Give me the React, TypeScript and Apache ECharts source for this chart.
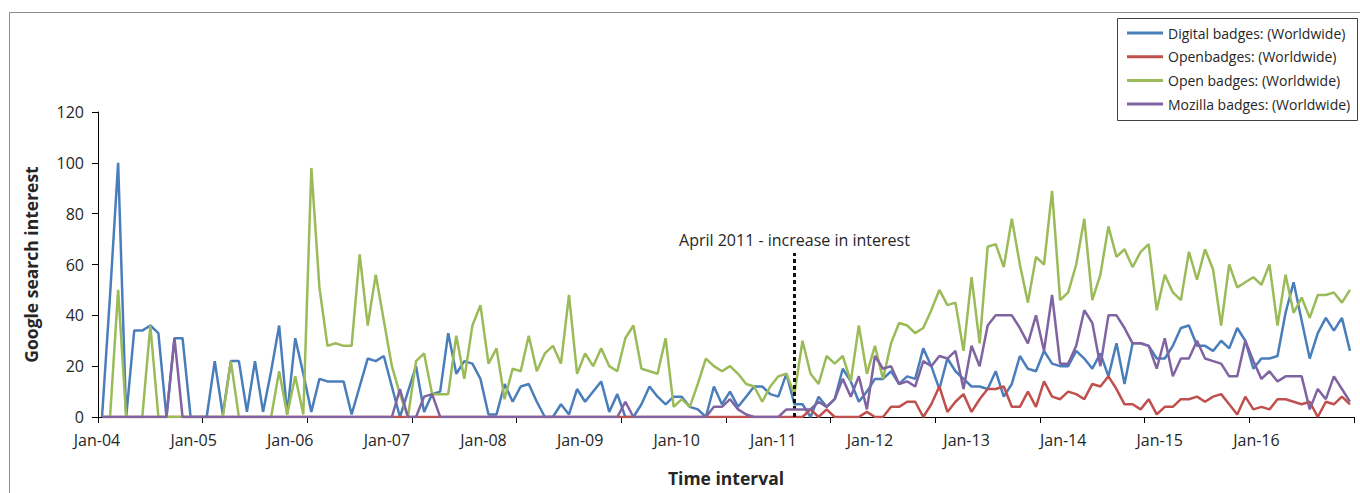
import React, { useEffect, useRef } from "react";
import * as echarts from "echarts";

const monthNames = ["Jan", "Feb", "Mar", "Apr", "May", "Jun", "Jul", "Aug", "Sep", "Oct", "Nov", "Dec"];
const yearLabels = ["04", "05", "06", "07", "08", "09", "10", "11", "12", "13", "14", "15", "16"];
const categories: string[] = [];
yearLabels.forEach((y) => monthNames.forEach((m) => categories.push(`${m}-${y}`)));

const seriesNames = [
  "Digital badges: (Worldwide)",
  "Openbadges: (Worldwide)",
  "Open badges: (Worldwide)",
  "Mozilla badges: (Worldwide)",
];

const digitalBadges = [
  0, 48, 100, 0, 34, 34, 36, 33, 0, 31,
  31, 0, 0, 0, 22, 1, 22, 22, 2, 22,
  2, 18, 36, 1, 31, 17, 2, 15, 14, 14,
  14, 1, 12, 23, 22, 24, 12, 0, 10, 20,
  2, 9, 10, 33, 17, 22, 21, 15, 1, 1,
  13, 6, 12, 13, 6, 0, 0, 5, 1, 11,
  6, 10, 14, 2, 9, 0, 0, 5, 12, 8,
  5, 8, 8, 4, 3, 0, 12, 5, 10, 4,
  8, 12, 12, 9, 8, 17, 5, 5, 0, 8,
  4, 7, 19, 14, 6, 10, 15, 15, 18, 13,
  16, 15, 27, 20, 11, 23, 18, 15, 12, 12,
  11, 18, 8, 13, 24, 19, 18, 26, 21, 20,
  20, 26, 23, 19, 25, 16, 29, 13, 29, 29,
  28, 23, 23, 28, 35, 36, 28, 28, 26, 30,
  27, 35, 30, 19, 23, 23, 24, 41, 53, 38,
  23, 33, 39, 34, 39, 26,
];

const openbadges = [
  0, 0, 0, 0, 0, 0, 0, 0, 0, 0,
  0, 0, 0, 0, 0, 0, 0, 0, 0, 0,
  0, 0, 0, 0, 0, 0, 0, 0, 0, 0,
  0, 0, 0, 0, 0, 0, 0, 0, 0, 0,
  0, 0, 0, 0, 0, 0, 0, 0, 0, 0,
  0, 0, 0, 0, 0, 0, 0, 0, 0, 0,
  0, 0, 0, 0, 0, 0, 0, 0, 0, 0,
  0, 0, 0, 0, 0, 0, 0, 0, 0, 0,
  0, 0, 0, 0, 0, 0, 0, 0, 3, 0,
  3, 0, 0, 0, 0, 2, 0, 0, 4, 4,
  6, 6, 0, 5, 12, 2, 6, 9, 2, 7,
  11, 11, 12, 4, 4, 10, 4, 14, 8, 7,
  10, 9, 7, 13, 12, 16, 11, 5, 5, 3,
  7, 1, 4, 4, 7, 7, 8, 6, 8, 9,
  5, 1, 8, 3, 4, 3, 7, 7, 6, 5,
  6, 0, 6, 5, 8, 5,
];

const openBadges = [
  0, 0, 50, 0, 0, 0, 36, 0, 0, 0,
  0, 0, 0, 0, 0, 0, 22, 0, 0, 0,
  0, 0, 18, 1, 16, 1, 98, 51, 28, 29,
  28, 28, 64, 36, 56, 38, 20, 9, 0, 22,
  25, 9, 9, 9, 32, 15, 36, 44, 21, 27,
  7, 19, 18, 32, 18, 25, 28, 21, 48, 17,
  25, 20, 27, 20, 18, 31, 36, 19, 18, 17,
  31, 4, 7, 4, 13, 23, 20, 18, 20, 17,
  13, 12, 6, 12, 16, 17, 9, 30, 17, 13,
  24, 21, 24, 14, 36, 17, 28, 15, 29, 37,
  36, 33, 35, 42, 50, 44, 45, 26, 55, 29,
  67, 68, 59, 78, 60, 45, 63, 60, 89, 46,
  49, 60, 78, 46, 56, 75, 63, 66, 59, 65,
  68, 42, 56, 49, 46, 65, 54, 66, 58, 36,
  60, 51, 53, 55, 52, 60, 36, 56, 41, 47,
  39, 48, 48, 49, 45, 50,
];

const mozillaBadges = [
  0, 0, 0, 0, 0, 0, 0, 0, 0, 31,
  0, 0, 0, 0, 0, 0, 0, 0, 0, 0,
  0, 0, 0, 0, 0, 0, 0, 0, 0, 0,
  0, 0, 0, 0, 0, 0, 0, 11, 0, 0,
  8, 9, 0, 0, 0, 0, 0, 0, 0, 0,
  0, 0, 0, 0, 0, 0, 0, 0, 0, 0,
  0, 0, 0, 0, 0, 6, 0, 0, 0, 0,
  0, 0, 0, 0, 0, 0, 4, 4, 7, 3,
  1, 0, 0, 0, 0, 3, 3, 3, 3, 6,
  4, 7, 15, 8, 16, 3, 24, 19, 20, 13,
  14, 12, 22, 20, 24, 23, 26, 11, 28, 20,
  36, 40, 40, 40, 35, 29, 40, 26, 48, 21,
  21, 28, 42, 37, 20, 40, 40, 35, 29, 29,
  28, 19, 31, 16, 23, 23, 30, 23, 22, 21,
  16, 16, 30, 22, 15, 18, 14, 16, 16, 16,
  3, 11, 7, 16, 11, 6,
];

const seriesData = [digitalBadges, openbadges, openBadges, mozillaBadges];
const seriesColors = ["#4A7EBB", "#C0504D", "#9BBB59", "#8064A2"];

const annotationCategory = "Mar-11";
const annotationTop = 64.5;
const annotationText = "April 2011 - increase in interest";

const FONT = "'Open Sans', sans-serif";
const TEXT = "#262626";

export default function App() {
  const ref = useRef<HTMLDivElement>(null);

  useEffect(() => {
    if (!ref.current) return;
    const chart = echarts.init(ref.current, undefined, { renderer: "svg" });
    const series: any[] = seriesNames.map((name, k) => ({
      name,
      type: "line",
      data: seriesData[k],
      symbol: "none",
      lineStyle: { width: 2.5, color: seriesColors[k] },
      itemStyle: { color: seriesColors[k] },
      z: 2 + k,
    }));
    series[3].markLine = {
      silent: true,
      symbol: "none",
      lineStyle: { type: [4, 3], width: 3, color: "#111" },
      label: {
        show: true,
        position: "end",
        formatter: annotationText,
        fontFamily: FONT,
        fontSize: 16,
        color: TEXT,
        distance: 5,
      },
      data: [[{ coord: [annotationCategory, 0] }, { coord: [annotationCategory, annotationTop] }]],
    };

    chart.setOption({
      animation: false,
      textStyle: { fontFamily: FONT },
      grid: { left: 98, right: 6, top: 112, bottom: 76, containLabel: false },
      legend: {
        orient: "vertical",
        left: 1127,
        top: 24,
        padding: 0,
        icon: "rect",
        itemWidth: 36,
        itemHeight: 3,
        itemGap: 5.7,
        textStyle: { fontFamily: FONT, fontSize: 14, color: TEXT, lineHeight: 18 },
        data: seriesNames,
      },
      xAxis: {
        type: "category",
        data: categories,
        boundaryGap: true,
        name: "Time interval",
        nameLocation: "middle",
        nameGap: 52,
        nameTextStyle: { fontFamily: FONT, fontSize: 17.5, fontWeight: "bold", color: TEXT },
        axisLine: { lineStyle: { color: "#000", width: 1 } },
        axisTick: { show: true, interval: 12, length: 6, lineStyle: { color: "#000" } },
        axisLabel: {
          interval: 11,
          fontFamily: FONT,
          fontSize: 16,
          color: TEXT,
          margin: 15,
          padding: [0, 10, 0, 0],
        },
        splitLine: { show: false },
      },
      yAxis: {
        type: "value",
        min: 0,
        max: 120,
        interval: 20,
        name: "Google search interest",
        nameLocation: "middle",
        nameGap: 58,
        nameRotate: 90,
        nameTextStyle: { fontFamily: FONT, fontSize: 17.5, fontWeight: "bold", color: TEXT },
        axisLine: { show: true, lineStyle: { color: "#000", width: 1 } },
        axisTick: { show: true, length: 6, lineStyle: { color: "#000" } },
        axisLabel: { fontFamily: FONT, fontSize: 16, color: TEXT, margin: 14 },
        splitLine: { show: false },
      },
      graphic: [
        {
          type: "rect",
          shape: { x: 9.5, y: 12.5, width: 1400, height: 600 },
          style: { fill: "none", stroke: "#8c8c8c", lineWidth: 1 },
          silent: true,
          z: -1,
        },
        {
          type: "rect",
          shape: { x: 1117.5, y: 18.5, width: 240, height: 102 },
          style: { fill: "#fff", stroke: "#404040", lineWidth: 1 },
          silent: true,
          z: -1,
        },
      ],
      series,
    });
    return () => chart.dispose();
  }, []);

  return (
    <div
      ref={ref}
      style={{ position: "absolute", left: 0, top: 0, width: 1360, height: 493, background: "#fff" }}
    />
  );
}
